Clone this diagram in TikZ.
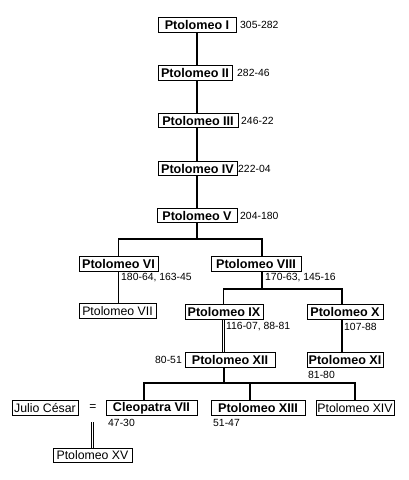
\documentclass[tikz,border=0pt]{standalone}
\usepackage{fontspec}
\setmainfont{Liberation Sans}
\begin{document}
\begin{tikzpicture}[x=1pt,y=-1pt,
  bx/.style={draw, line width=0.9pt, inner sep=0pt, minimum height=14.5pt, font=\fontsize{12.6}{12.6}\selectfont\bfseries},
  pbx/.style={draw, line width=0.9pt, inner sep=0pt, minimum height=14.5pt, font=\fontsize{12.3}{12.3}\selectfont},
  dt/.style={inner sep=0pt, anchor=west, font=\fontsize{10.4}{10.4}\selectfont},
  ln/.style={line width=1.8pt},
  dbl/.style={double, double distance=1.4pt, line width=0.8pt}]
\fill[white] (0,0) rectangle (409,480);
\useasboundingbox (0,0) rectangle (409,480);
% boxes
\node[bx, minimum width=78pt] (p1) at (197,25) {Ptolomeo I};
\node[bx, minimum width=74pt] (p2) at (195,73) {Ptolomeo II};
\node[bx, minimum width=80pt] (p3) at (198,120.5) {Ptolomeo III};
\node[bx, minimum width=79pt] (p4) at (197.5,168.5) {Ptolomeo IV};
\node[bx, minimum width=80pt] (p5) at (197,215.5) {Ptolomeo V};
\node[bx, minimum width=79pt] (p6) at (118.5,264) {Ptolomeo VI};
\node[pbx, minimum width=77pt] (p7) at (117.5,311) {Ptolomeo VII};
\node[bx, minimum width=90pt] (p8) at (256,264) {Ptolomeo VIII};
\node[bx, minimum width=78pt] (p9) at (224,312) {Ptolomeo IX};
\node[bx, minimum width=76pt] (p10) at (345,312) {Ptolomeo X};
\node[bx, minimum width=90pt] (p12) at (230,360) {Ptolomeo XII};
\node[bx, minimum width=76pt] (p11) at (345,360) {Ptolomeo XI};
\node[pbx, minimum width=66pt] (jc) at (45,408) {Julio César};
\node[bx, minimum width=91pt] (c7) at (151.5,408) {Cleopatra VII};
\node[bx, minimum width=94pt] (p13) at (258,408) {Ptolomeo XIII};
\node[pbx, minimum width=78pt] (p14) at (355,408) {Ptolomeo XIV};
\node[pbx, minimum width=79pt] (p15) at (92.5,455.5) {Ptolomeo XV};
\node[inner sep=0pt, font=\fontsize{12}{12}\selectfont] (eq) at (93,408) {=};
% dates
\node[dt] (d1) at (240,25) {305-282};
\node[dt] (d2) at (237,73) {282-46};
\node[dt] (d3) at (241,120.5) {246-22};
\node[dt] (d4) at (238,168.5) {222-04};
\node[dt] (d5) at (240,215.5) {204-180};
\node[dt] (d6) at (121,278) {180-64, 163-45};
\node[dt] (d8) at (265,278) {170-63, 145-16};
\node[dt] (d9) at (226,327) {116-07, 88-81};
\node[dt] (d10) at (344,327) {107-88};
\node[dt, anchor=east] (d12) at (182,360) {80-51};
\node[dt] (d11) at (308,375) {81-80};
\node[dt] (d7c) at (108,423) {47-30};
\node[dt] (d13) at (213,423) {51-47};
% junction coordinates
\coordinate (bR) at (262,239);
\coordinate (c8) at (262,289);
\coordinate (c9) at (223.5,289);
\coordinate (c10) at (342,289);
\coordinate (c12) at (224,383);
\coordinate (cL) at (144,383);
\coordinate (cM) at (250,383);
\coordinate (cR) at (355,383);
\coordinate (eqd) at (92.5,422);
% connectors
\draw[ln] (p1.south) -- (p1.south |- p2.north);
\draw[ln] (p1.south |- p2.south) -- (p1.south |- p3.north);
\draw[ln] (p1.south |- p3.south) -- (p1.south |- p4.north);
\draw[ln] (p1.south |- p4.south) -- (p1.south |- p5.north);
\draw[ln] (p5.south) -- (p5.south |- bR);
\draw[ln] (p6.north) |- (bR) -- (bR |- p8.north);
\draw[ln] (p6.south) -- (p6.south |- p7.north);
\draw[ln] (c8 |- p8.south) -- (c8);
\draw[ln] (c9 |- p9.north) -- (c9) -- (c10) -- (c10 |- p10.north);
\draw[dbl] (c9 |- p9.south) -- (c9 |- p12.north);
\draw[ln] (c10 |- p10.south) -- (c10 |- p11.north);
\draw[ln] (c12 |- p12.south) -- (c12);
\draw[ln] (cL |- c7.north) -- (cL) -- (cR) -- (cR |- p14.north);
\draw[ln] (cM) -- (cM |- p13.north);
\draw[dbl] (eqd) -- (eqd |- p15.north);
\end{tikzpicture}
\end{document}
